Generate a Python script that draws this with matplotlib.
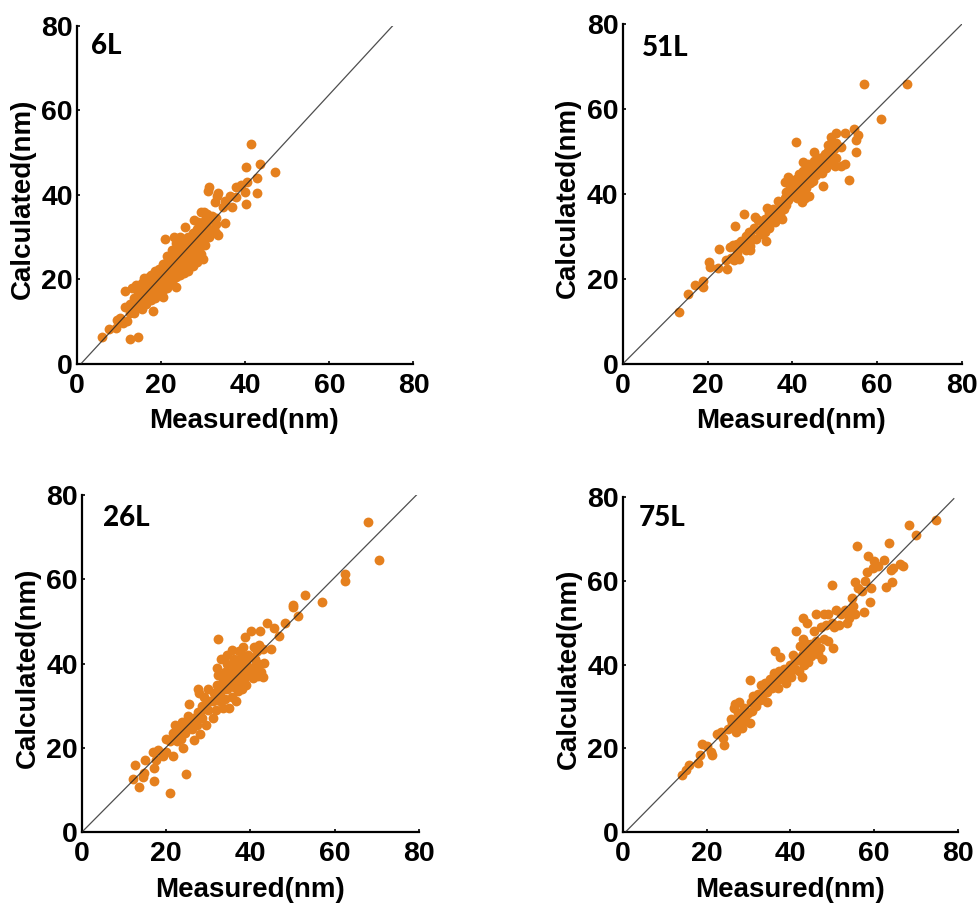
import matplotlib

matplotlib.use("Agg")
import matplotlib.pyplot as plt  # noqa: E402

TICKS = [0, 20, 40, 60, 80]

# (measured, calculated), outliers first then the dense band column by column
POINTS_6L = [
    (41.3, 52), (40.1, 46.6), (43.4, 47.4), (47.1, 45.4), (42.7, 44), (39.9, 40.7), (42.8, 40.5),
    (40.1, 37.9), (31.4, 41.9), (31.2, 41), (33.5, 40.5), (33.3, 39.8), (32.9, 38.4), (36.3, 39.7),
    (35.3, 38.5), (36.8, 37), (37.9, 39.4), (37.9, 41.9), (39, 42.3), (40.4, 43), (34.8, 37.2),
    (35.3, 33.3), (33.6, 30.5), (29.5, 35.8), (31, 35.5), (32, 35), (27.7, 34), (25.7, 32.4),
    (20.9, 29.6), (23, 30), (24.5, 30), (30, 24.7), (20.5, 15.8), (23.5, 18.2), (18, 12.5),
    (14.5, 6.3), (12.7, 5.8), (6, 6.3), (7.5, 8.2), (9.2, 8.3), (9.5, 10.2), (10.3, 10.8),
    (11, 9.5), (12, 10), (11.5, 13.5), (11.5, 17.2), (12.5, 12), (12.5, 14), (13, 17.8),
    (13.5, 12), (13.5, 13.5), (13.5, 15.5), (14, 18.5), (14.5, 13.5), (14.5, 15), (14.5, 17),
    (15.5, 13), (15.5, 15), (15.5, 17), (15.5, 19), (16, 20.2), (16.5, 14), (16.5, 16), (16.5, 18),
    (17, 20.5), (17.5, 15), (17.5, 17), (17.5, 19), (17.5, 21), (18.5, 15.5), (18.5, 18), (18.5, 20),
    (18.5, 22), (19.5, 16.5), (19.5, 18.5), (19.5, 20.5), (19.5, 22.5), (20.5, 17.5), (20.5, 19.5),
    (20.5, 21.5), (20.5, 23.5), (21.5, 18), (21.5, 20), (21.5, 22), (21.5, 24), (21.5, 25.5),
    (22.5, 19), (22.5, 21), (22.5, 23), (22.5, 25), (22.5, 27), (23.5, 20.5), (23.5, 22.5),
    (23.5, 24.5), (23.5, 26.5), (23.5, 28.5), (24.5, 21), (24.5, 23), (24.5, 25), (24.5, 27),
    (24.5, 29), (25.5, 21.5), (25.5, 23.5), (25.5, 25.5), (25.5, 27.5), (25.5, 29.5), (26.5, 22),
    (26.5, 24), (26.5, 26), (26.5, 28), (26.5, 30), (27.5, 23), (27.5, 25), (27.5, 27), (27.5, 29),
    (27.5, 31), (28.5, 24), (28.5, 26), (28.5, 28), (28.5, 30), (28.5, 32), (29.5, 26), (29.5, 28),
    (29.5, 30), (29.5, 33), (30.5, 28), (30.5, 30), (30.5, 32), (30.5, 34), (31.5, 30), (31.5, 32),
    (31.5, 34), (33, 31), (33, 33), (33, 34.5), (32.5, 32), (30.2, 35.8), (28.8, 33.5),
    (15, 16), (16, 17), (17, 16), (17, 18), (18, 17), (18, 19), (19, 17.5), (19, 19.5), (19, 21.5),
    (20, 18.5), (20, 20.5), (20, 22.5), (21, 19), (21, 21), (21, 23), (22, 20), (22, 22), (22, 24),
    (23, 21.5), (23, 23.5), (23, 25.5), (24, 22), (24, 24), (24, 26), (25, 22.5), (25, 24.5), (25, 26.5),
    (25, 28.5), (26, 23), (26, 25), (26, 27), (26, 29), (27, 24), (27, 26), (27, 28), (27, 30),
    (28, 25), (28, 27), (28, 29), (28, 31), (29, 27), (29, 29), (29, 31), (30, 29), (30, 31), (30, 33),
]

POINTS_51L = [
    (57, 65.8), (67.1, 65.9), (60.9, 57.7), (53.3, 43.3), (54.9, 49.9), (47.2, 41.9), (40.8, 52.3),
    (55, 52.8), (55.5, 53.8), (54.5, 55.3), (52.5, 54.3), (50.2, 54.3), (49, 53.3), (13.2, 12.2),
    (15.3, 16.4), (17, 18.7), (18.9, 18.2), (19, 19.5), (20.3, 24), (20.7, 22.8), (22.8, 27),
    (22.5, 22.5), (24.5, 22.3), (24.3, 24.5), (28.5, 35.3), (26.5, 32.4), (34, 36.7), (33.9, 29),
    (30, 26.8), (25.2, 27.5), (25.5, 25), (26, 28), (26.3, 24.5), (27, 26), (27, 28.2), (27.5, 24.8),
    (28, 27.5), (28.5, 29), (29, 26.8), (29.5, 29), (29.8, 31), (30, 27.8), (30.5, 29.5), (31, 32),
    (31.3, 34.5), (31.5, 29.5), (32, 31.5), (32, 33.8), (32.5, 30.5), (33, 32.5), (33.5, 34),
    (33.5, 31), (34, 33), (34.5, 35.5), (34.5, 32), (35, 34), (35.5, 36.5), (36, 33.5), (36, 35),
    (36.5, 38.3), (37, 35), (37, 36.8), (37.5, 34), (38, 36.5), (38.3, 39), (38.3, 42.8), (38.5, 40.5),
    (39, 38.5), (39.2, 41), (39, 44), (39.8, 39.5), (40, 42), (40.3, 40.2), (40.8, 43.5), (41, 39),
    (41, 41), (41.5, 44.8), (41.8, 42.5), (42, 40), (42.3, 38), (42.5, 47.5), (42.5, 45.5), (42.8, 43.3),
    (43, 39), (43.3, 41.3), (43.5, 44.5), (43.8, 47), (44, 39.5), (44.2, 42.5), (44.3, 45), (44.8, 43),
    (45, 47.8), (45.2, 49.8), (45.5, 44.5), (46, 46.5), (46.3, 48.5), (46.8, 46), (47, 45), (47.2, 48.8),
    (47.5, 47), (47.8, 49.5), (48, 46), (48.4, 51.5), (48.5, 48), (49, 52), (49.2, 49.5), (49.5, 47),
    (49.8, 50.5), (50, 46.5), (50.3, 48.5), (50.2, 52), (51.5, 46.5), (52.3, 47), (51.5, 51),
    (40, 40.5), (41.5, 42), (42.5, 41.5), (43.5, 43), (44.5, 46), (45.5, 46), (46.5, 47.5), (48.5, 50),
    (37.5, 37.5), (38.5, 37.5), (35, 35.5), (33, 33.5), (30, 30.5), (29, 30), (28, 29),
]

POINTS_26L = [
    (67.9, 73.5), (70.6, 64.5), (62.5, 61.3), (62.4, 59.5), (53, 56.2), (56.9, 54.6), (50.2, 53.9),
    (50.2, 53.3), (51.2, 51.3), (48.2, 49.5), (46.7, 46.5), (45.5, 48.5), (43.8, 49.7), (42.3, 47.6),
    (40.1, 47.8), (38.6, 46.2), (32.4, 45.8), (44.9, 43.5), (43.2, 40.2), (42.9, 36.8), (12.5, 15.8),
    (12.2, 12.5), (13.5, 10.8), (14.5, 13), (14.8, 14), (15, 17.1), (17.1, 12), (17.1, 15.2), (16.8, 19),
    (17.5, 17), (18, 19.5), (19.2, 18), (20, 19), (21.5, 18), (24.8, 13.8), (20.9, 9.2), (24, 20),
    (26.7, 21.9), (28, 23.2), (20, 22), (21, 21.5), (21.5, 23.5), (22, 25.5), (22.5, 21.5), (23, 24),
    (23.5, 22), (23.8, 26), (24.5, 23.5), (25, 25), (25.2, 27.5), (25.5, 30.5), (26, 24.5), (26.5, 27),
    (27.2, 25.5), (27.5, 34), (27.5, 28.5), (27.8, 33), (28.5, 27), (28.5, 30), (29, 32), (29.5, 25.5),
    (29.8, 29), (30, 34), (30.5, 31), (31, 27), (31.3, 33), (31.8, 29), (32, 35), (32.2, 37.2), (32, 39),
    (32.8, 31), (33, 33.5), (33, 41), (33.5, 29.5), (33.5, 36), (34, 38), (34, 31.5), (34.5, 34),
    (34.5, 40), (35, 36.5), (35, 29.5), (35.5, 43.3), (35.5, 32), (35.8, 38.5), (36, 34.5), (36, 41),
    (36.5, 36.5), (36.5, 31), (37, 39), (37, 33.5), (37.3, 43), (37.5, 37), (37.8, 41), (38, 34),
    (38.2, 44), (38.5, 38.5), (38.5, 36), (39, 40), (39, 35), (39.5, 37.5), (40, 41.5), (40, 39),
    (40.5, 36.5), (40.8, 44), (41, 41), (41, 38), (41.5, 43), (41.8, 37), (42, 44.5), (42, 40),
    (42.5, 38), (43, 43.5), (34.5, 42), (36.5, 40), (38, 42),
    (22, 23), (24, 24.5), (25, 26), (26, 26), (27, 27), (28, 28.5), (29.5, 30.5), (31, 31), (32, 32.5),
    (33.5, 34.5), (34.5, 35.5), (35.5, 37.5), (36.5, 38), (37.5, 39.5), (38.5, 40.5), (39.5, 39),
    (39.5, 42), (41, 39.5), (35.5, 35), (37, 35.5),
]

POINTS_75L = [
    (74.7, 74.4), (68.4, 73.2), (69.9, 71), (55.9, 68.4), (63.5, 69), (58.4, 65.8), (62.4, 65), (60, 64.7),
    (61, 63.5), (59.8, 63), (66.2, 64), (66.8, 63.5), (64, 62.5), (64.5, 63), (58.2, 62), (64.3, 59.8),
    (62.7, 58.6), (59.2, 58.3), (59, 55), (57.5, 52.6), (55.5, 59.7), (56.2, 58.3), (49.8, 59), (57.8, 60),
    (57, 57.5), (54.8, 56), (30.3, 36.2), (36.2, 43.3), (37.5, 41.8), (41.3, 48), (43, 51), (44, 50),
    (46, 52), (48, 52), (49, 52), (50.2, 44), (49, 45.5), (48, 46), (47.5, 41.2), (42.7, 37), (14, 13.5),
    (15, 14.8), (15.7, 16), (18, 16.5), (18.5, 18.5), (18.8, 21), (20, 20.5), (21, 19), (21.3, 18.5),
    (22.5, 23.3), (23.5, 24), (24, 22.5), (24.2, 20.7), (25, 24.5), (25.8, 27), (26.3, 24.8), (26.5, 29.5),
    (26.8, 30.5), (27, 24), (27.5, 28.5), (27.8, 26), (27.8, 31), (28.5, 24.8), (28.8, 29.5), (29.2, 27.5),
    (29.8, 28.5), (30.3, 26), (30.5, 31), (30.8, 29), (31, 32.5), (31.8, 30), (32.3, 33), (32.8, 31.5),
    (33, 35.2), (33.5, 33), (34, 35.5), (34.5, 33.5), (34.5, 31), (35, 36.5), (35.5, 34.3), (36, 38),
    (36.5, 36), (37, 34.5), (37.3, 38.5), (38, 36.5), (38.5, 39), (39, 35.5), (39.3, 37.5), (40, 40),
    (40.2, 37), (40.5, 42.3), (41, 39), (41.8, 41), (42, 38.5), (42.2, 44.5), (42.8, 42), (43, 46), (43.3, 40),
    (44, 43.5), (44.2, 40.5), (45, 45), (45, 42), (45.5, 48), (46, 44), (46.5, 42.5), (47, 44), (47.3, 49),
    (48.5, 49.5), (50, 50), (50.5, 49), (50.8, 53), (51.5, 49.5), (52, 52), (53, 53), (53.5, 50),
    (54, 51), (54.5, 52.5), (55, 54), (55.5, 52),
    (35, 35), (36, 36.5), (37, 37), (38, 38), (39, 38.5), (40, 38.5), (41, 41), (42, 41), (43, 42.5),
    (44, 45), (45, 43.5), (46, 45.5), (28, 27), (29, 26.5), (26, 26),
]

PANELS = [
    ("6L", POINTS_6L, (77, 413.5, 26, 363.5), (1, 0, 75, 80), (91, 46), (149, 421), 23),
    ("51L", POINTS_51L, (622.7, 962, 24, 364), (0, 0, 80, 80), (642, 48), (696, 421), 568),
    ("26L", POINTS_26L, (82, 419, 495, 832), (0, 0, 79.4, 80), (103, 518), (155, 890), 28),
    ("75L", POINTS_75L, (623, 958, 497, 832), (0.6, 0, 79, 79.6), (639, 518), (695, 890), 569),
]

W, H = 979, 905
fig = plt.figure(figsize=(W / 100, H / 100), dpi=100, facecolor="white")
for name, pts, box, line, name_xy, xlab_xy, ylab_x in PANELS:
    x0, x1, ytop, ybot = box
    ax = fig.add_axes([x0 / W, 1 - ybot / H, (x1 - x0) / W, (ybot - ytop) / H])
    ax.set_xlim(0, 80)
    ax.set_ylim(0, 80)
    ax.scatter([p[0] for p in pts], [p[1] for p in pts], s=50, color="#E5801E", linewidths=0,
               clip_on=False, zorder=2)
    ax.plot([line[0], line[2]], [line[1], line[3]], color="#222222", lw=0.9, alpha=0.8, zorder=3)
    for side in ("top", "right"):
        ax.spines[side].set_visible(False)
    for side in ("left", "bottom"):
        ax.spines[side].set_linewidth(1.6)
    ax.set_xticks(TICKS)
    ax.set_yticks(TICKS)
    ax.tick_params(direction="in", length=2, width=1.2)
    ax.tick_params(axis="x", pad=6.5)
    ax.tick_params(axis="y", pad=3)
    for lab in ax.get_xticklabels() + ax.get_yticklabels():
        lab.set_fontfamily("Liberation Sans")
        lab.set_fontweight("bold")
        lab.set_fontsize(20.5)
    fig.text(name_xy[0] / W, 1 - name_xy[1] / H, name, family="Lato", weight="black", fontsize=20,
             va="center", ha="left")
    fig.text(xlab_xy[0] / W, 1 - xlab_xy[1] / H, "Measured(nm)", family="Liberation Sans", weight="bold",
             fontsize=20, va="center", ha="left")
    fig.text(ylab_x / W, 1 - ((ytop + ybot) / 2 + 4) / H, "Calculated(nm)", family="Liberation Sans",
             weight="bold", fontsize=20, rotation=90, va="center", ha="center")

fig.savefig("out.png", dpi=100)
